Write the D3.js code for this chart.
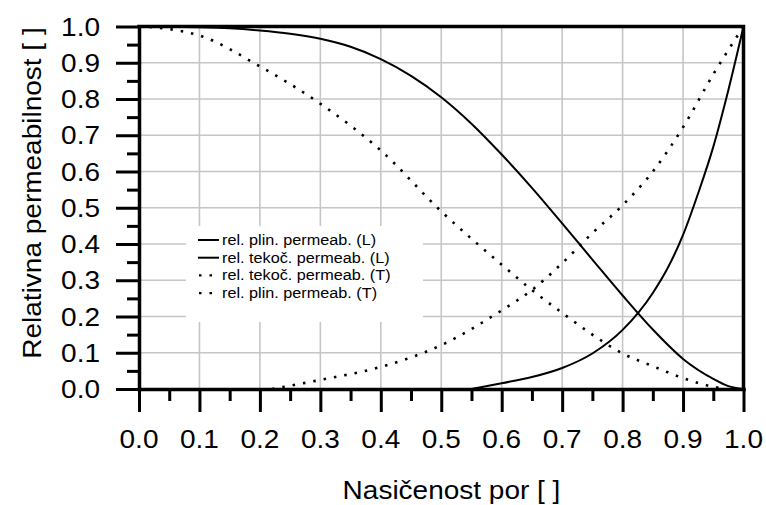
<!DOCTYPE html>
<html>
<head>
<meta charset="utf-8">
<script src="https://cdn.jsdelivr.net/npm/d3@7/dist/d3.min.js"></script>
<style>
  body { margin: 0; background: #fff; }
  svg { display: block; }
  text { font-family: "Liberation Sans", Arial, sans-serif; fill: #000; }
</style>
</head>
<body>
<svg id="chart" width="766" height="505"></svg>
<script>
// Axis ticks
const xTicks = [0, 0.1, 0.2, 0.3, 0.4, 0.5, 0.6, 0.7, 0.8, 0.9, 1.0];
const yTicks = [0, 0.1, 0.2, 0.3, 0.4, 0.5, 0.6, 0.7, 0.8, 0.9, 1.0];
const minorTicks = [0.05, 0.15, 0.25, 0.35, 0.45, 0.55, 0.65, 0.75, 0.85, 0.95];

// rel. plin. permeab. (L)
const satPlinL = [0, 0.05, 0.1, 0.15, 0.2, 0.25, 0.3, 0.35, 0.4, 0.45, 0.5, 0.55, 0.6, 0.65, 0.7, 0.75, 0.8, 0.85, 0.9, 0.95, 0.975, 1.0];
const relPlinL = [1.0, 0.9995, 0.998, 0.995, 0.989, 0.98, 0.966, 0.944, 0.91, 0.864, 0.805, 0.732, 0.647, 0.555, 0.457, 0.357, 0.258, 0.164, 0.083, 0.028, 0.008, 0.0];

// rel. tekoč. permeab. (L)
const satTekL = [0.55, 0.6, 0.65, 0.7, 0.75, 0.8, 0.85, 0.875, 0.9, 0.925, 0.95, 0.975, 1.0];
const relTekL = [0.0, 0.016, 0.033, 0.058, 0.098, 0.163, 0.265, 0.335, 0.425, 0.54, 0.668, 0.825, 1.0];

// rel. tekoč. permeab. (T)
const satTekT = [0, 0.05, 0.1, 0.2, 0.3, 0.4, 0.5, 0.6, 0.65, 0.7, 0.75, 0.8, 0.85, 0.9, 0.95, 0.97];
const relTekT = [1.0, 0.993, 0.975, 0.89, 0.787, 0.658, 0.49, 0.343, 0.273, 0.21, 0.15, 0.098, 0.063, 0.03, 0.006, 0.0];

// rel. plin. permeab. (T)
const satPlinT = [0.22, 0.3, 0.4, 0.5, 0.6, 0.65, 0.7, 0.75, 0.8, 0.85, 0.9, 0.95, 1.0];
const relPlinT = [0.0, 0.025, 0.061, 0.121, 0.217, 0.273, 0.347, 0.43, 0.507, 0.6, 0.722, 0.868, 1.0];

const legendLabels = [
  "rel. plin. permeab. (L)",
  "rel. tekoč. permeab. (L)",
  "rel. tekoč. permeab. (T)",
  "rel. plin. permeab. (T)"
];

const svg = d3.select("#chart");
const x = d3.scaleLinear().domain([0, 1]).range([139, 743.5]);
const y = d3.scaleLinear().domain([0, 1]).range([389, 26.5]);
const WIDE = 1.12; // horizontal stretch of the lettering

function label(g, px, py, txt, size, anchor, rot) {
  return g.append("text")
    .attr("transform", `translate(${px},${py}) rotate(${rot || 0}) scale(${WIDE},1)`)
    .attr("font-size", size)
    .attr("text-anchor", anchor)
    .text(txt);
}

// grid
const grid = svg.append("g").attr("stroke", "#c6c6c6").attr("stroke-width", 1.6);
grid.selectAll("line.v").data(xTicks.slice(1, -1)).join("line")
  .attr("x1", d => x(d)).attr("x2", d => x(d))
  .attr("y1", y(0)).attr("y2", y(1));
grid.selectAll("line.h").data(yTicks.slice(1, -1)).join("line")
  .attr("x1", x(0)).attr("x2", x(1))
  .attr("y1", d => y(d)).attr("y2", d => y(d));

// legend background hides the grid behind it
svg.append("rect").attr("x", 186).attr("y", 226).attr("width", 237).attr("height", 96).attr("fill", "#fff");

// curves
const series = [
  { sat: satPlinL, rel: relPlinL, dotted: false },
  { sat: satTekL, rel: relTekL, dotted: false },
  { sat: satTekT, rel: relTekT, dotted: true },
  { sat: satPlinT, rel: relPlinT, dotted: true }
];
const line = d3.line().x(d => x(d[0])).y(d => y(d[1])).curve(d3.curveMonotoneX);
svg.append("g").selectAll("path").data(series).join("path")
  .attr("d", s => line(s.sat.map((v, i) => [v, s.rel[i]])))
  .attr("fill", "none")
  .attr("stroke", "#000")
  .attr("stroke-width", s => s.dotted ? 2.6 : 2)
  .attr("stroke-dasharray", s => s.dotted ? "2.5 8" : null);

// axes
function styleAxis(g, w) {
  g.selectAll(".domain").attr("stroke-width", 3.5).attr("stroke-linecap", "square");
  g.selectAll(".tick line").attr("stroke-width", w);
}
const fmt = d3.format(".1f");
svg.append("g").attr("transform", `translate(0,${y(0)})`)
  .call(d3.axisBottom(x).tickValues(xTicks).tickSize(23).tickSizeOuter(0).tickFormat(""))
  .call(g => styleAxis(g, 3));
svg.append("g").attr("transform", `translate(0,${y(0)})`)
  .call(d3.axisBottom(x).tickValues(minorTicks).tickSize(12).tickFormat(""))
  .call(g => { g.select(".domain").remove(); g.selectAll(".tick line").attr("stroke-width", 3); });
svg.append("g").attr("transform", `translate(${x(0)},0)`)
  .call(d3.axisLeft(y).tickValues(yTicks).tickSize(23).tickSizeOuter(0).tickFormat(""))
  .call(g => styleAxis(g, 3));
svg.append("g").attr("transform", `translate(${x(0)},0)`)
  .call(d3.axisLeft(y).tickValues(minorTicks).tickSize(12).tickFormat(""))
  .call(g => { g.select(".domain").remove(); g.selectAll(".tick line").attr("stroke-width", 3); });

// frame top and right
svg.append("path")
  .attr("d", `M${x(0)},${y(1)}H${x(1)}V${y(0)}`)
  .attr("fill", "none").attr("stroke", "#000").attr("stroke-width", 3.5)
  .attr("stroke-linecap", "square").attr("stroke-linejoin", "miter");

// tick labels
const labels = svg.append("g");
xTicks.forEach(t => label(labels, x(t), 448, fmt(t), 25, "middle"));
yTicks.forEach(t => label(labels, 100, y(t) + 9, fmt(t), 25, "end"));

// axis titles
label(svg, 451.5, 499, "Nasičenost por [ ]", 25, "middle");
label(svg, 41, 193, "Relativna permeabilnost [ ]", 25, "middle", -90);

// legend
const legend = svg.append("g");
series.forEach((s, i) => {
  const ry = 240 + i * 17.7;
  legend.append("line")
    .attr("x1", s.dotted ? 199 : 198).attr("x2", 219)
    .attr("y1", ry).attr("y2", ry)
    .attr("stroke", "#000")
    .attr("stroke-width", s.dotted ? 2.4 : 2)
    .attr("stroke-dasharray", s.dotted ? "2.5 8" : null);
  label(legend, 222, ry + 5, legendLabels[i], 14.5, "start");
});
</script>
</body>
</html>
